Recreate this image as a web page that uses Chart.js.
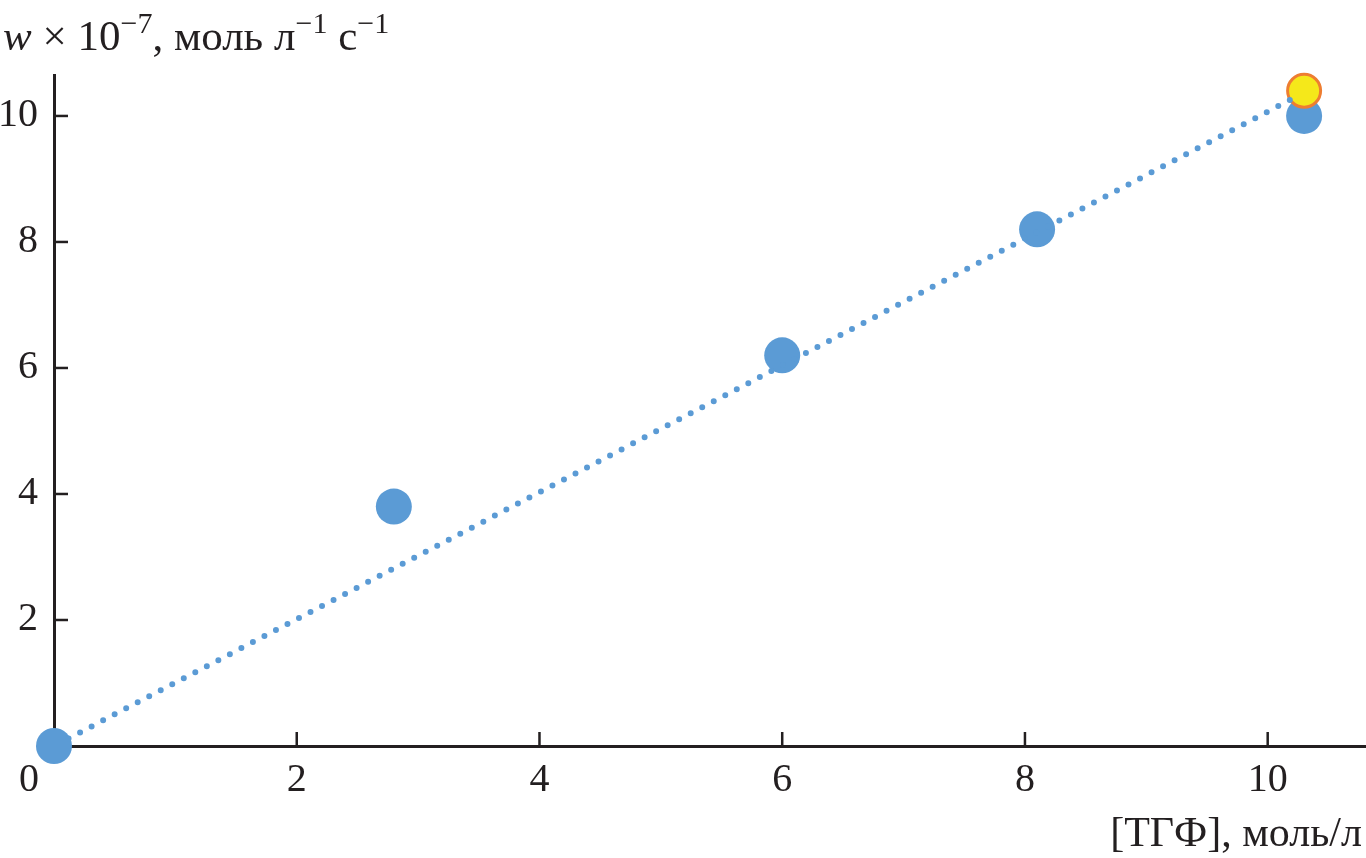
<!DOCTYPE html>
<html>
<head>
<meta charset="utf-8">
<script src="https://cdn.jsdelivr.net/npm/chart.js@4"></script>
<style>
  body { margin: 0; background: #fff; }
  .wrap { position: relative; width: 1366px; height: 858px; }
  .ytitle, .xtitle {
    position: absolute;
    font-family: "Liberation Serif", serif;
    color: #231f20;
    white-space: nowrap;
    line-height: 1;
  }
  .ytitle { left: 3px; top: 14px; font-size: 43px; }
  .xtitle { right: 4px; top: 811px; font-size: 42px; }
  sup { font-size: 0.7em; vertical-align: 0; position: relative; top: -0.55em; }
</style>
</head>
<body>
<div class="wrap">
  <canvas id="rateChart" width="1366" height="858"></canvas>
  <div class="ytitle"><i>w</i> × 10<sup>−7</sup>, моль л<sup>−1</sup> с<sup>−1</sup></div>
  <div class="xtitle">[ТГФ], моль/л</div>
</div>
<script>
const concTGF = [0, 2.8, 6.0, 8.1, 10.3];
const rateW = [0, 3.8, 6.2, 8.2, 10.0];

const highlightX = [10.3];
const highlightY = [10.4];

const fitX = [0.12, 10.25];
const fitY = [0.12, 10.32];

const xTickValues = [0, 2, 4, 6, 8, 10];
const yTickValues = [2, 4, 6, 8, 10];

const axisColor = "#231f20";
const tickFont = { family: "Liberation Serif", size: 40 };

function toPoints(xs, ys) {
  return xs.map((x, i) => ({ x: x, y: ys[i] }));
}

// inward tick marks, x tick labels (0 sits left of the origin)
const axisExtras = {
  id: "axisExtras",
  afterDraw(chart) {
    const ctx = chart.ctx;
    const xs = chart.scales.x;
    const ys = chart.scales.y;
    const area = chart.chartArea;

    ctx.save();
    ctx.strokeStyle = axisColor;
    ctx.lineWidth = 2.5;

    xTickValues.forEach((v) => {
      if (v === 0) return;
      const px = xs.getPixelForValue(v);
      ctx.beginPath();
      ctx.moveTo(px, area.bottom);
      ctx.lineTo(px, area.bottom - 14);
      ctx.stroke();
    });

    yTickValues.forEach((v) => {
      const py = ys.getPixelForValue(v);
      ctx.beginPath();
      ctx.moveTo(area.left, py);
      ctx.lineTo(area.left + 14, py);
      ctx.stroke();
    });

    ctx.fillStyle = axisColor;
    ctx.font = "40px 'Liberation Serif'";
    ctx.textAlign = "center";
    ctx.textBaseline = "middle";
    xTickValues.forEach((v) => {
      const px = v === 0 ? area.left - 25 : xs.getPixelForValue(v);
      ctx.fillText(String(v), px, area.bottom + 34);
    });
    ctx.restore();
  },
};

new Chart(document.getElementById("rateChart"), {
  type: "scatter",
  data: {
    datasets: [
      {
        label: "fit",
        data: toPoints(fitX, fitY),
        showLine: true,
        borderColor: "#5b9bd5",
        borderWidth: 6,
        borderDash: [0, 13],
        borderCapStyle: "round",
        pointRadius: 0,
        clip: false,
        order: 0,
      },
      {
        label: "highlight",
        data: toPoints(highlightX, highlightY),
        backgroundColor: "#f5e81a",
        borderColor: "#ee7d31",
        borderWidth: 3,
        pointRadius: 16.5,
        clip: false,
        order: 1,
      },
      {
        label: "w",
        data: toPoints(concTGF, rateW),
        backgroundColor: "#5b9bd5",
        borderWidth: 0,
        pointRadius: 18,
        clip: false,
        order: 2,
      },
    ],
  },
  options: {
    responsive: false,
    animation: false,
    layout: {
      autoPadding: false,
      padding: { top: 75, right: 0, left: 0, bottom: 0 },
    },
    plugins: {
      legend: { display: false },
      tooltip: { enabled: false },
    },
    scales: {
      x: {
        type: "linear",
        min: 0,
        max: 10.81,
        afterBuildTicks: (scale) => {
          scale.ticks = xTickValues.map((v) => ({ value: v }));
        },
        afterFit: (scale) => {
          scale.height = 112;
        },
        grid: { display: false, drawTicks: false, tickLength: 0 },
        border: { display: true, color: axisColor, width: 3 },
        ticks: { display: false },
      },
      y: {
        type: "linear",
        min: 0,
        max: 10.65,
        afterBuildTicks: (scale) => {
          scale.ticks = yTickValues.map((v) => ({ value: v }));
        },
        afterFit: (scale) => {
          scale.width = 54;
          scale.paddingTop = 0;
          scale.paddingBottom = 0;
        },
        grid: { display: false, drawTicks: false, tickLength: 0 },
        border: { display: true, color: axisColor, width: 3 },
        ticks: {
          color: axisColor,
          font: tickFont,
          padding: 16,
        },
      },
    },
  },
  plugins: [axisExtras],
});
</script>
</body>
</html>
